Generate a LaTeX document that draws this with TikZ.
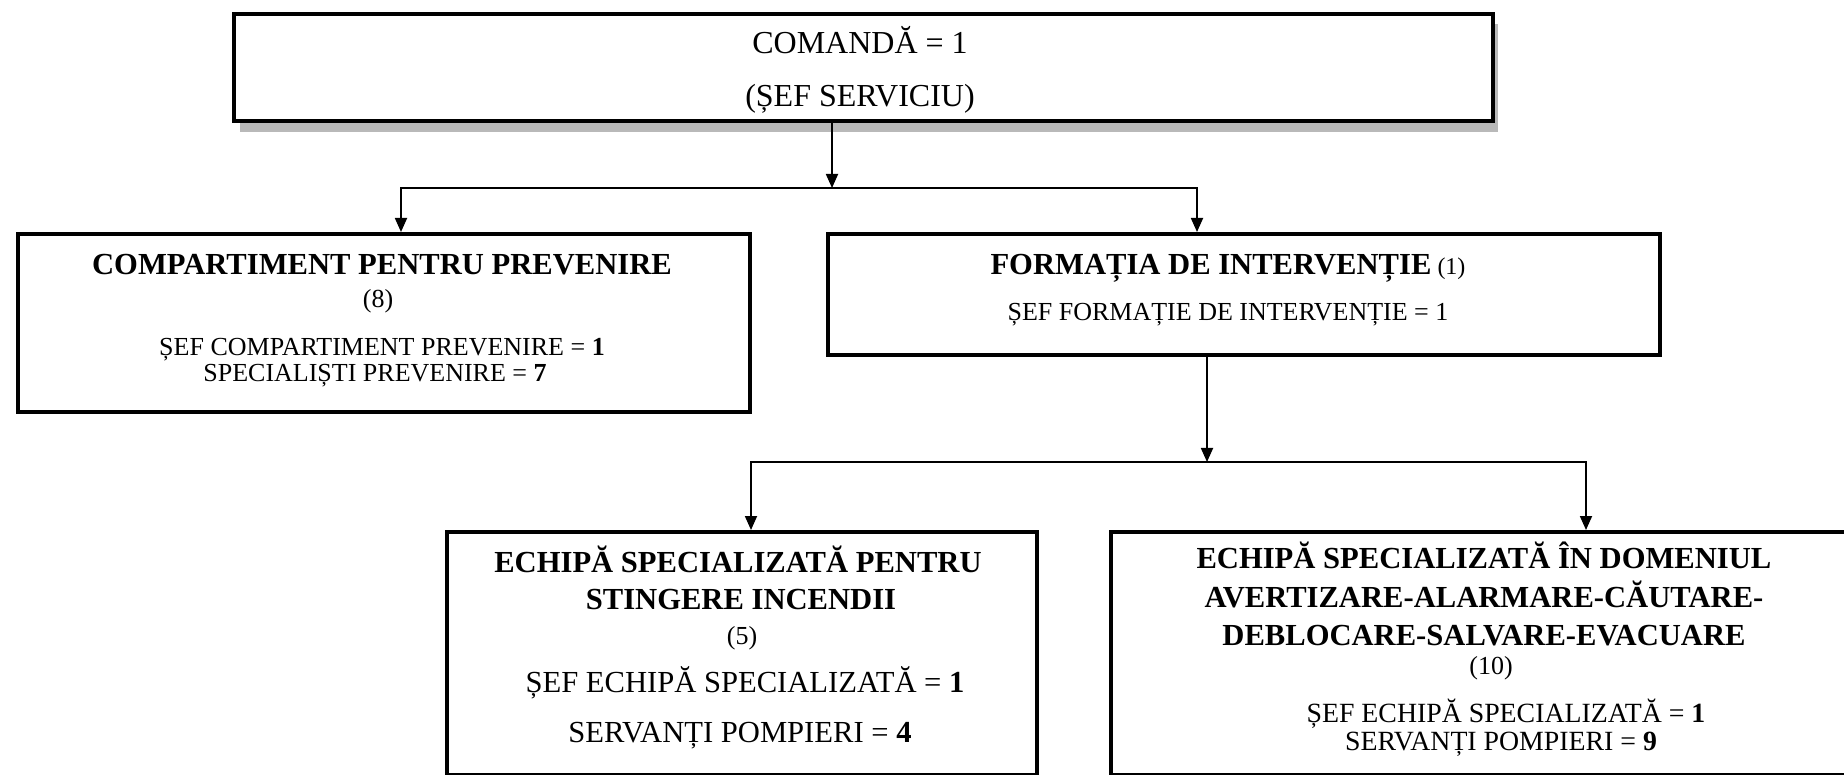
\documentclass[tikz,border=0pt]{standalone}
\usepackage{fontspec}
\setmainfont{Liberation Serif}
\usetikzlibrary{arrows.meta,calc}
\tikzset{
  box/.style={draw=black, line width=2.1pt, fill=white, inner sep=0pt, anchor=north west, rectangle},
  conn/.style={draw=black, line width=0.9pt},
  arr/.style={conn, -{Triangle[width=6pt,length=7pt]}},
  head/.style={font=\fontsize{15.3pt}{18pt}\selectfont\bfseries, anchor=base, inner sep=0pt},
  txt/.style={font=\fontsize{13pt}{15pt}\selectfont, anchor=base, inner sep=0pt},
  txtb/.style={font=\fontsize{15.3pt}{17pt}\selectfont, anchor=base, inner sep=0pt},
  txtr/.style={font=\fontsize{13.9pt}{16pt}\selectfont, anchor=base, inner sep=0pt},
  toptxt/.style={font=\fontsize{16pt}{18pt}\selectfont, anchor=base, inner sep=0pt},
}
\begin{document}
\begin{tikzpicture}[x=0.5pt,y=-0.5pt]
\clip (0,0) rectangle (1844,775);
\fill[white] (0,0) rectangle (1844,775);
% shadow of the top box
\fill[gray!55] (240,24) rectangle (1498,132);
% boxes
\node[box, minimum width=629.5pt, minimum height=53.5pt] (top) at (232,12) {};
\node[box, minimum width=366pt, minimum height=89pt] (comp) at (16,232) {};
\node[box, minimum width=416pt, minimum height=60.5pt] (form) at (826,232) {};
\node[box, minimum width=295pt, minimum height=121.5pt] (bl) at (445,530) {};
\node[box, minimum width=375.5pt, minimum height=121.5pt] (br) at (1109,530) {};
% texts
\node[toptxt] (t1) at (860,54) {COMANDĂ = 1};
\node[toptxt] (t2) at (860,107) {(ȘEF SERVICIU)};
\node[head] (c1) at (382,275) {COMPARTIMENT PENTRU PREVENIRE};
\node[txt] (c2) at (378,308) {(8)};
\node[txt] (c3) at (382,356) {ȘEF COMPARTIMENT PREVENIRE = \textbf{1}};
\node[txt] (c4) at (375,382) {SPECIALIȘTI PREVENIRE = \textbf{7}};
\node[head] (f1) at (1228,275) {FORMAȚIA DE INTERVENȚIE\fontsize{12pt}{14pt}\selectfont\mdseries{} (1)};
\node[txt] (f2) at (1228,321) {ȘEF FORMAȚIE DE INTERVENȚIE = 1};
\node[head] (b1) at (738,573) {ECHIPĂ SPECIALIZATĂ PENTRU};
\node[head] (b2) at (741,609) {STINGERE INCENDII};
\node[txt] (b3) at (742,644) {(5)};
\node[txtb] (b4) at (745,692) {ȘEF ECHIPĂ SPECIALIZATĂ = \textbf{1}};
\node[txtb] (b5) at (740,742) {SERVANȚI POMPIERI = \textbf{4}};
\node[head] (r1) at (1484,568) {ECHIPĂ SPECIALIZATĂ ÎN DOMENIUL};
\node[head] (r2) at (1484,607) {AVERTIZARE-ALARMARE-CĂUTARE-};
\node[head] (r3) at (1484,645) {DEBLOCARE-SALVARE-EVACUARE};
\node[txt] (r4) at (1491,674) {(10)};
\node[txtr] (r5) at (1506,722) {ȘEF ECHIPĂ SPECIALIZATĂ = \textbf{1}};
\node[txtr] (r6) at (1501,750) {SERVANȚI POMPIERI = \textbf{9}};
% junctions
\coordinate (j1) at (832,188);
\coordinate (d1) at (401,188);
\coordinate (d2) at (1197,188);
\coordinate (j2) at (1207,462);
\coordinate (d3) at (751,462);
\coordinate (d4) at (1586,462);
% connectors
\draw[arr] (top.south -| j1) -- (j1);
\draw[arr] (j1) -| (comp.north -| d1);
\draw[arr] (j1) -| (form.north -| d2);
\draw[arr] (form.south -| j2) -- (j2);
\draw[arr] (j2) -| (bl.north -| d3);
\draw[arr] (j2) -| (br.north -| d4);
\end{tikzpicture}
\end{document}
